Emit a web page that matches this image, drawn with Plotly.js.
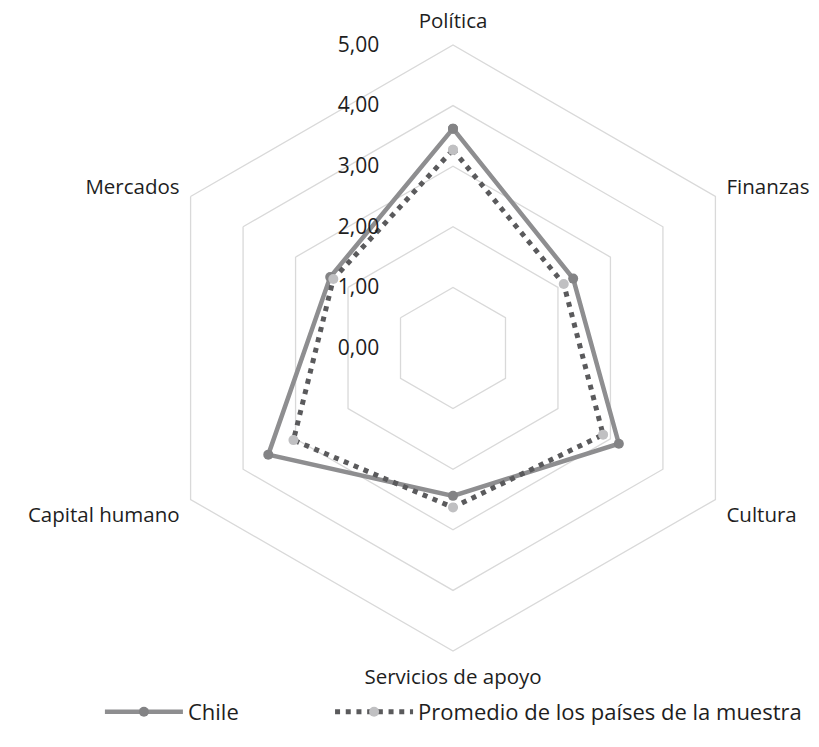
<!DOCTYPE html>
<html>
<head>
<meta charset="utf-8">
<script src="https://cdn.plot.ly/plotly-3.0.1.min.js"></script>
<style>html,body{margin:0;padding:0;background:#fff;}#chart{width:819px;height:747px;}</style>
</head>
<body>
<div id="chart"></div>
<script>
const categories = ["Política", "Finanzas", "Cultura", "Servicios de apoyo", "Capital humano", "Mercados"];
const chile = [3.62, 2.29, 3.16, 2.44, 3.52, 2.34];
const promedio = [3.27, 2.11, 2.86, 2.63, 3.04, 2.28];
const tickValues = [0, 1, 2, 3, 4, 5];
const seriesNames = ["Chile", "Promedio de los países de la muestra"];

const closeLoop = a => a.concat([a[0]]);

const traces = [
  {
    type: "scatterpolar",
    name: seriesNames[0],
    legend: "legend",
    r: closeLoop(chile),
    theta: closeLoop(categories),
    mode: "lines+markers",
    line: {color: "#8e8e90", width: 4.5},
    marker: {color: "#838385", size: 10},
    cliponaxis: false
  },
  {
    type: "scatterpolar",
    name: seriesNames[1],
    legend: "legend2",
    r: closeLoop(promedio),
    theta: closeLoop(categories),
    mode: "lines+markers",
    line: {color: "#5a5a5c", width: 5, dash: "5px,5.7px"},
    marker: {color: "#c0c0c2", size: 10},
    cliponaxis: false
  }
];

const R = 303, cx = 453, cy = 348, W = 819, H = 747;
const legendBase = {
  orientation: "h",
  y: 0.047, yanchor: "middle",
  xanchor: "left",
  itemwidth: 78,
  font: {size: 22, color: "#1e1e1e"},
  bgcolor: "rgba(0,0,0,0)"
};
const layout = {
  width: W,
  height: H,
  margin: {l: 0, r: 0, t: 0, b: 0},
  paper_bgcolor: "#ffffff",
  separators: ",.",
  font: {family: "Open Sans, sans-serif", size: 20.5, color: "#1e1e1e"},
  showlegend: true,
  legend: Object.assign({}, legendBase, {x: 0.122}),
  legend2: Object.assign({}, legendBase, {x: 0.403}),
  polar: {
    domain: {x: [(cx - R) / W, (cx + R) / W], y: [(H - cy - R) / H, (H - cy + R) / H]},
    bgcolor: "#ffffff",
    gridshape: "linear",
    angularaxis: {
      direction: "clockwise",
      rotation: 90,
      categoryorder: "array",
      categoryarray: categories,
      showgrid: false,
      showline: true,
      linecolor: "#d9d9d9",
      linewidth: 1.3,
      ticks: "outside",
      ticklen: 8,
      tickcolor: "rgba(0,0,0,0)",
      tickfont: {size: 20.5, color: "#1e1e1e"}
    },
    radialaxis: {
      range: [0, 5],
      tickvals: tickValues,
      tickformat: ".2f",
      angle: 90,
      tickangle: 90,
      side: "counterclockwise",
      showline: false,
      gridcolor: "#d9d9d9",
      gridwidth: 1.3,
      ticks: "outside",
      ticklen: 66,
      tickcolor: "rgba(0,0,0,0)",
      tickfont: {size: 21, color: "#1e1e1e"}
    }
  }
};

Plotly.newPlot("chart", traces, layout, {displayModeBar: false, staticPlot: true});
</script>
</body>
</html>
